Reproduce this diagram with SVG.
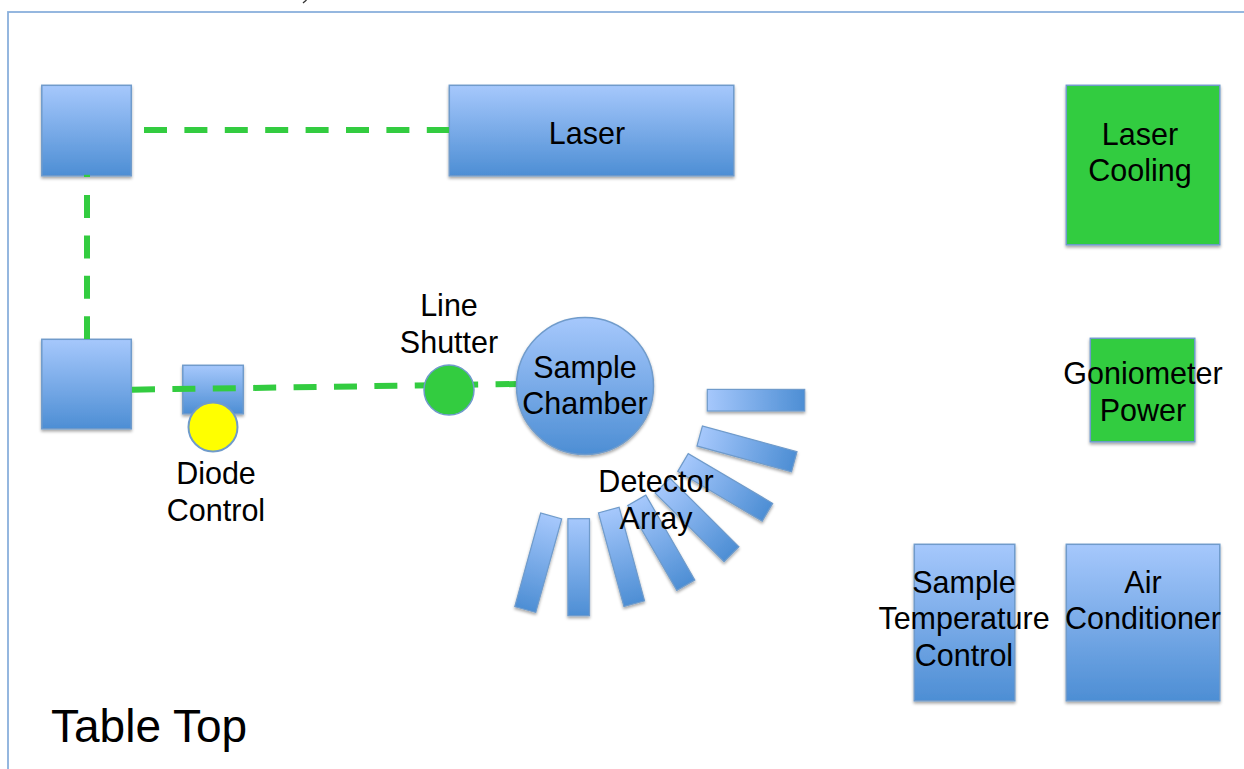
<svg xmlns="http://www.w3.org/2000/svg" width="1244" height="769" viewBox="0 0 1244 769">
<style>
text{font-family:"Liberation Sans",Arial,sans-serif;font-size:30.5px;fill:#000;text-anchor:middle}
.b{fill:url(#v);stroke:#6f9bcb;stroke-width:1.5;filter:url(#s)}
.d{fill:url(#h);stroke:#6f9bcb;stroke-width:1.2}
.g{fill:#33cc40;stroke:#6f9bcb;stroke-width:1.5;filter:url(#s)}
.c{fill:none;stroke:#33cc40;stroke-width:6;stroke-dasharray:23 17.4}
.e{fill:none;stroke:#33cc40;stroke-width:6}
</style>
<defs>
<linearGradient id="v" x1="0" y1="0" x2="0" y2="1"><stop offset="0" stop-color="#a6c8fc"/><stop offset="1" stop-color="#4d8ed4"/></linearGradient>
<linearGradient id="h" x1="0" y1="0" x2="1" y2="0"><stop offset="0" stop-color="#a6c8fc"/><stop offset="1" stop-color="#4d8ed4"/></linearGradient>
<filter id="s" x="-10%" y="-10%" width="120%" height="125%"><feDropShadow dx="0" dy="2" stdDeviation="1.5" flood-color="#000" flood-opacity="0.35"/></filter>
</defs>
<rect width="1244" height="769" fill="#fff"/>
<rect id="frame" x="8" y="12" width="1260" height="790" fill="none" stroke="#8ab0dc" stroke-width="1.8"/>
<path id="scrap" d="M306.5 0L303 3" fill="none" stroke="#333" stroke-width="1.3"/>
<g id="mirror-top"><rect class="b" x="41.8" y="85.3" width="89.5" height="90.5"/></g>
<g id="laser"><rect class="b" x="449.3" y="85.3" width="284.5" height="90.5"/><text x="587" y="144">Laser</text></g>
<g id="laser-cooling"><rect class="g" x="1066.3" y="85.3" width="153.5" height="159.5"/><text x="1140" y="145">Laser</text><text x="1140" y="181">Cooling</text></g>
<g id="mirror-bottom"><rect class="b" x="41.8" y="339.3" width="89.5" height="89.5"/></g>
<g id="diode-box"><rect class="b" x="182.8" y="365.3" width="60.5" height="48.5"/></g>
<g id="connectors">
<path class="c" d="M144 130H449"/>
<path class="e" d="M87 174.8V177"/>
<path class="c" d="M87 195V339"/>
<path class="c" d="M132 389.7L518 384"/>
</g>
<g id="diode-control"><circle cx="213" cy="427" r="24.5" fill="#ff0" stroke="#6f9bcb" stroke-width="2"/><text x="216" y="484">Diode</text><text x="216" y="521">Control</text></g>
<g id="line-shutter"><circle cx="449" cy="390" r="25" fill="#33cc40" stroke="#6f9bcb" stroke-width="1.5"/><text x="449" y="316">Line</text><text x="449" y="353">Shutter</text></g>
<g id="sample-chamber"><circle class="b" cx="585" cy="386" r="68.5"/><text x="585" y="378">Sample</text><text x="585" y="414">Chamber</text></g>
<g id="detector-array" filter="url(#s)">
<rect class="d" x="0" y="-10.8" width="97.4" height="21.6" transform="translate(707.3 400.2)"/>
<rect class="d" x="0" y="-10.4" width="98" height="20.8" transform="translate(699.7 436) rotate(15.2)"/>
<rect class="d" x="0" y="-10.3" width="98" height="20.6" transform="translate(683 462.5) rotate(30.5)"/>
<rect class="d" x="0" y="-10.5" width="97.4" height="21" transform="translate(662.5 485.5) rotate(44.9)"/>
<rect class="d" x="0" y="-10.4" width="98" height="20.8" transform="translate(636.8 500.3) rotate(60)"/>
<rect class="d" x="0" y="-10.7" width="97" height="21.4" transform="translate(608.8 510) rotate(74.8)"/>
<rect class="d" x="0" y="-10.8" width="97" height="21.6" transform="translate(578.7 518.7) rotate(90)"/>
<rect class="d" x="0" y="-10.9" width="97" height="21.8" transform="translate(551.2 516) rotate(105.5)"/>
</g>
<g id="detector-label"><text x="656" y="492">Detector</text><text x="656" y="529">Array</text></g>
<g id="goniometer-power"><rect class="g" x="1090.3" y="338.3" width="104.5" height="103.5"/><text x="1143" y="384">Goniometer</text><text x="1143" y="421">Power</text></g>
<g id="sample-temperature-control"><rect class="b" x="914.3" y="544.3" width="100.5" height="156.5"/><text x="964" y="593">Sample</text><text x="964" y="629">Temperature</text><text x="964" y="666">Control</text></g>
<g id="air-conditioner"><rect class="b" x="1066.3" y="544.3" width="153.5" height="156.5"/><text x="1143" y="593">Air</text><text x="1143" y="629">Conditioner</text></g>
<text x="51" y="742" style="font-size:46px;text-anchor:start">Table Top</text>
</svg>
